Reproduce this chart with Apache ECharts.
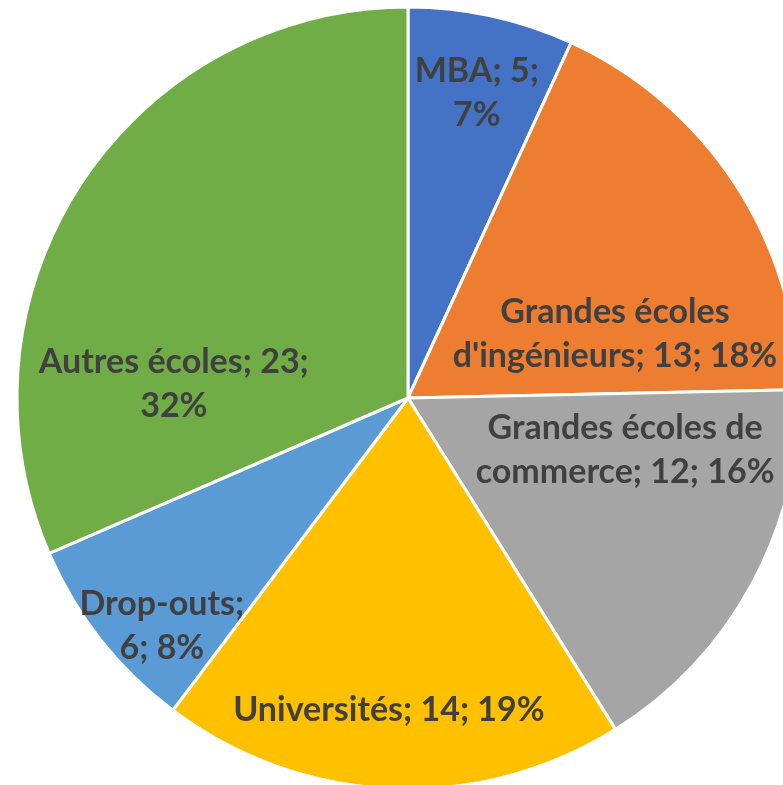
<!DOCTYPE html>
<html>
<head>
<meta charset="utf-8">
<script src="https://cdn.jsdelivr.net/npm/echarts@6/dist/echarts.min.js"></script>
<style>
  html, body { margin: 0; padding: 0; background: #fff; }
  #chart { width: 783px; height: 785px; }
</style>
</head>
<body>
<div id="chart"></div>
<script>
// données
var categories = ['MBA', "Grandes écoles d'ingénieurs", 'Grandes écoles de commerce', 'Universités', 'Drop-outs', 'Autres écoles'];
var values = [5, 13, 12, 14, 6, 23];
var colors = ['#4472C4', '#ED7D31', '#A5A5A5', '#FFC000', '#5B9BD5', '#70AD47'];

var cx = 408, cy = 398, R = 391;

// label placement (angle from top clockwise, fraction of radius) like Excel did it
var labelPolar = [[12.7, 0.8], [72.8, 0.554], [103.5, 0.571], [183.5, 0.8], [227.2, 0.858], [273.4, 0.6]];

function labelText(p) {
    var n = p.name, v = p.value, pc = p.percent + '%';
    switch (p.dataIndex) {
        case 0: return n + '; ' + v + ';\n' + pc;
        case 1: return 'Grandes écoles\nd\'ingénieurs; ' + v + '; ' + pc;
        case 2: return 'Grandes écoles de\ncommerce; ' + v + '; ' + pc;
        case 4: return n + ';\n' + v + '; ' + pc;
        case 5: return n + '; ' + v + ';\n' + pc;
        default: return n + '; ' + v + '; ' + pc;
    }
}

var chart = echarts.init(document.getElementById('chart'));
var option = {
    animation: false,
    color: colors,
    series: [{
        type: 'pie',
        center: [cx, cy],
        radius: R,
        startAngle: 90,
        clockwise: true,
        percentPrecision: 0,
        itemStyle: {borderColor: '#fff', borderWidth: 3},
        label: {
            show: true,
            position: 'inside',
            formatter: labelText,
            fontFamily: 'Lato',
            fontWeight: 'bold',
            fontSize: 34,
            lineHeight: 44,
            color: '#404040',
            align: 'center'
        },
        labelLine: {show: false},
        labelLayout: function (params) {
            var lp = labelPolar[params.dataIndex];
            var a = lp[0] * Math.PI / 180;
            return {
                x: cx + Math.sin(a) * lp[1] * R,
                y: cy - Math.cos(a) * lp[1] * R,
                align: 'center',
                verticalAlign: 'middle'
            };
        },
        data: categories.map(function (c, i) {
            return {name: c, value: values[i]};
        })
    }]
};
chart.setOption(option);
</script>
</body>
</html>
